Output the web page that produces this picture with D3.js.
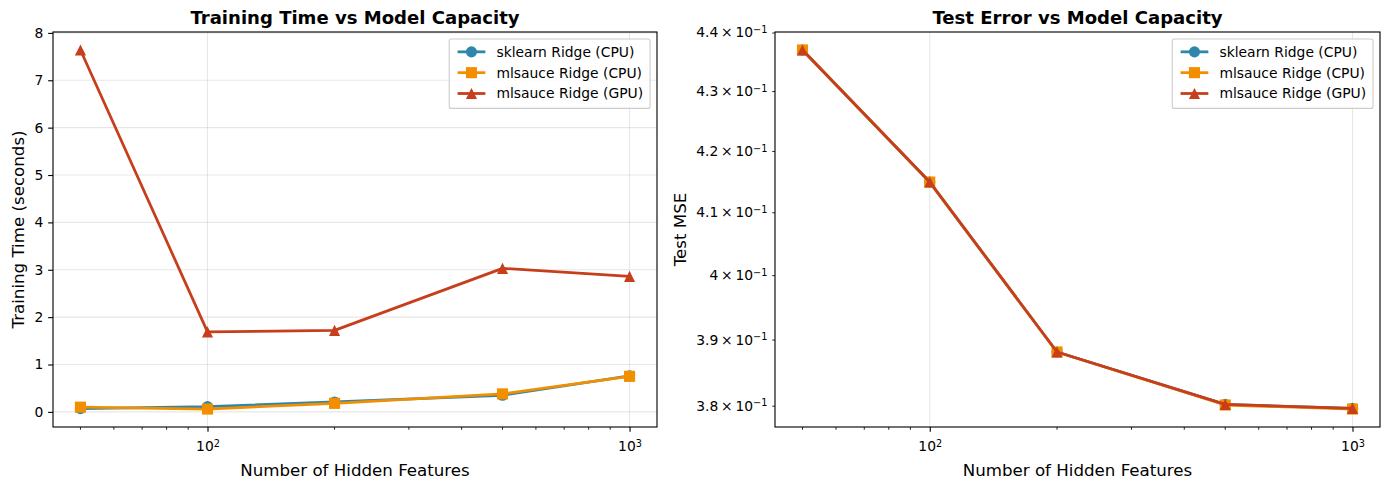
<!DOCTYPE html>
<html>
<head>
<meta charset="utf-8">
<script src="https://cdn.jsdelivr.net/npm/d3@7"></script>
<style>
  body { margin: 0; background: #fff; }
  text { font-family: "DejaVu Sans", sans-serif; fill: #000; }
</style>
</head>
<body>
<div id="chart"></div>
<script>

// data
const features = [50, 100, 200, 500, 1000];
const seriesNames = ['sklearn Ridge (CPU)', 'mlsauce Ridge (CPU)', 'mlsauce Ridge (GPU)'];

const timeSklearn = [0.07, 0.11, 0.21, 0.35, 0.76];
const timeMlsCpu = [0.10, 0.06, 0.18, 0.38, 0.75];
const timeMlsGpu = [7.64, 1.69, 1.72, 3.03, 2.86];

const mseSklearn = [0.4370, 0.4149, 0.3881, 0.3802, 0.3796];
const mseMlsCpu = [0.4370, 0.4149, 0.3881, 0.3801, 0.3795];
const mseMlsGpu = [0.4370, 0.4149, 0.3881, 0.3802, 0.3796];

const timeTicks = [0, 1, 2, 3, 4, 5, 6, 7, 8];
const mseTicks = [0.38, 0.39, 0.40, 0.41, 0.42, 0.43, 0.44];

const colors = ['#2E86AB', '#F18F01', '#C73E1D'];
const shapes = ['circle', 'square', 'triangle'];

const W = 1389, H = 489;
const PT = 100 / 72;
const tickFont = 10 * PT, labelFont = 12 * PT, titleFont = 13 * PT;
const majorLen = 3.5 * PT, minorLen = 2 * PT, tickPad = 3.5 * PT;
const markerSize = 8 * PT;

const svg = d3.select('#chart').append('svg')
  .attr('width', W).attr('height', H);

function markerPath(shape) {
  const r = markerSize / 2;
  if (shape === 'circle') return `M${r},0A${r},${r},0,1,1,${-r},0A${r},${r},0,1,1,${r},0Z`;
  if (shape === 'square') return `M${-r},${-r}H${r}V${r}H${-r}Z`;
  return `M0,${-r}L${r},${r}L${-r},${r}Z`;
}

function pad(domain, log) {
  const [a, b] = domain;
  if (log) {
    const la = Math.log10(a), lb = Math.log10(b), m = (lb - la) * 0.05;
    return [Math.pow(10, la - m), Math.pow(10, lb + m)];
  }
  const m = (b - a) * 0.05;
  return [a - m, b + m];
}

function supLabel(sel, base, exp, pre) {
  sel.text(null);
  if (pre) sel.append('tspan').text(pre);
  sel.append('tspan').text(base);
  sel.append('tspan').attr('dy', '-0.45em').attr('font-size', '0.7em').text(exp);
}

function drawPanel(opts) {
  const { left, right, top, bottom, series, yLog, title, yLabel } = opts;
  const g = svg.append('g');

  const x = d3.scaleLog()
    .domain(pad(d3.extent(features), true))
    .range([left, right]);

  const allY = series.flat();
  const y = (yLog ? d3.scaleLog() : d3.scaleLinear())
    .domain(pad(d3.extent(allY), yLog))
    .range([bottom, top]);

  const xMajor = x.ticks().filter(v => Math.abs(Math.log10(v) - Math.round(Math.log10(v))) < 1e-9);
  const xMinor = x.ticks().filter(v => !xMajor.includes(v));

  // grid
  g.append('g').selectAll('line').data(xMajor).join('line')
    .attr('x1', d => x(d)).attr('x2', d => x(d))
    .attr('y1', top).attr('y2', bottom)
    .attr('stroke', '#b0b0b0').attr('stroke-opacity', 0.3).attr('stroke-width', 0.8 * PT);
  if (!yLog) {
    g.append('g').selectAll('line').data(opts.yTicks).join('line')
      .attr('x1', left).attr('x2', right)
      .attr('y1', d => y(d)).attr('y2', d => y(d))
      .attr('stroke', '#b0b0b0').attr('stroke-opacity', 0.3).attr('stroke-width', 0.8 * PT);
  }

  // x axis
  const xAxis = g.append('g').attr('transform', `translate(0,${bottom})`)
    .call(d3.axisBottom(x).tickValues(xMajor).tickSize(majorLen).tickPadding(tickPad));
  xAxis.select('.domain').remove();
  xAxis.selectAll('.tick line').attr('stroke', '#000').attr('stroke-width', 0.8 * PT);
  xAxis.selectAll('.tick text')
    .attr('font-size', tickFont).attr('fill', '#000').attr('dy', '1.05em')
    .style('font-family', '"DejaVu Sans", sans-serif')
    .each(function (d) { supLabel(d3.select(this), '10', String(Math.round(Math.log10(d)))); });
  g.append('g').selectAll('line').data(xMinor).join('line')
    .attr('x1', d => x(d)).attr('x2', d => x(d))
    .attr('y1', bottom).attr('y2', bottom + minorLen)
    .attr('stroke', '#000').attr('stroke-width', 0.6 * PT);

  // y axis
  const yAxis = g.append('g').attr('transform', `translate(${left},0)`)
    .call(d3.axisLeft(y).tickValues(opts.yTicks)
      .tickSize(yLog ? minorLen : majorLen).tickPadding(tickPad));
  yAxis.select('.domain').remove();
  yAxis.selectAll('.tick line').attr('stroke', '#000').attr('stroke-width', (yLog ? 0.6 : 0.8) * PT);
  yAxis.selectAll('.tick text')
    .attr('font-size', tickFont).attr('fill', '#000')
    .style('font-family', '"DejaVu Sans", sans-serif');
  if (yLog) {
    yAxis.selectAll('.tick text').each(function (d) {
      const m = d3.format('~g')(Math.round(d * 100) / 10);
      supLabel(d3.select(this), '10', '\u22121', m + '\u2009\u00d7\u200910');
      d3.select(this).selectAll('tspan').filter((_, i) => i === 1).remove();
    });
  }

  // lines and markers
  series.forEach((vals, i) => {
    const pts = features.map((f, j) => [f, vals[j]]);
    g.append('path').datum(pts)
      .attr('fill', 'none').attr('stroke', colors[i]).attr('stroke-width', 2 * PT)
      .attr('stroke-linejoin', 'round')
      .attr('d', d3.line().x(d => x(d[0])).y(d => y(d[1])));
    g.append('g').selectAll('path').data(pts).join('path')
      .attr('transform', d => `translate(${x(d[0])},${y(d[1])})`)
      .attr('d', markerPath(shapes[i]))
      .attr('fill', colors[i]);
  });

  // frame
  g.append('rect')
    .attr('x', left).attr('y', top).attr('width', right - left).attr('height', bottom - top)
    .attr('fill', 'none').attr('stroke', '#000').attr('stroke-width', 0.8 * PT);

  // title and labels
  g.append('text')
    .attr('x', (left + right) / 2).attr('y', top - 6 * PT)
    .attr('text-anchor', 'middle').attr('font-size', titleFont).attr('font-weight', 'bold')
    .text(title);
  g.append('text')
    .attr('x', (left + right) / 2).attr('y', H - 13)
    .attr('text-anchor', 'middle').attr('font-size', labelFont)
    .text('Number of Hidden Features');
  g.append('text')
    .attr('transform', `translate(${opts.yLabelX},${(top + bottom) / 2}) rotate(-90)`)
    .attr('text-anchor', 'middle').attr('font-size', labelFont)
    .text(yLabel);

  // legend
  const lg = g.append('g');
  const fs = tickFont;
  const texts = lg.selectAll('text').data(seriesNames).join('text')
    .attr('font-size', fs).text(d => d);
  const textW = d3.max(texts.nodes(), n => n.getComputedTextLength());
  const bpad = 0.4 * fs, hlen = 2 * fs, hpad = 0.8 * fs, rowH = fs * 1.0, spacing = 0.5 * fs;
  const boxW = bpad * 2 + hlen + hpad + textW + 0.3 * fs;
  const boxH = bpad * 2 + rowH * 3 + spacing * 2 + 0.2 * fs;
  const bx = right - 0.5 * fs - boxW, by = top + 0.5 * fs;
  lg.insert('rect', 'text')
    .attr('x', bx).attr('y', by).attr('width', boxW).attr('height', boxH)
    .attr('rx', 2).attr('fill', '#fff').attr('fill-opacity', 0.8)
    .attr('stroke', '#cccccc').attr('stroke-width', 0.8 * PT);
  seriesNames.forEach((name, i) => {
    const cy = by + bpad + 0.1 * fs + rowH / 2 + i * (rowH + spacing) - 1;
    lg.append('line')
      .attr('x1', bx + bpad + 0.2 * fs).attr('x2', bx + bpad + 0.2 * fs + hlen)
      .attr('y1', cy).attr('y2', cy)
      .attr('stroke', colors[i]).attr('stroke-width', 2 * PT);
    lg.append('path')
      .attr('transform', `translate(${bx + bpad + 0.2 * fs + hlen / 2},${cy})`)
      .attr('d', markerPath(shapes[i])).attr('fill', colors[i]);
  });
  texts.attr('x', bx + bpad + 0.2 * fs + hlen + hpad)
    .attr('y', (d, i) => by + bpad + 0.1 * fs + rowH / 2 + i * (rowH + spacing) - 1)
    .attr('dy', '0.35em');
}

drawPanel({
  left: 53, right: 657, top: 32, bottom: 427,
  series: [timeSklearn, timeMlsCpu, timeMlsGpu],
  yLog: false, yTicks: timeTicks,
  title: 'Training Time vs Model Capacity',
  yLabel: 'Training Time (seconds)', yLabelX: 24
});

drawPanel({
  left: 775, right: 1380, top: 32, bottom: 427,
  series: [mseSklearn, mseMlsCpu, mseMlsGpu],
  yLog: true, yTicks: mseTicks,
  title: 'Test Error vs Model Capacity',
  yLabel: 'Test MSE', yLabelX: 686
});

</script>
</body>
</html>
